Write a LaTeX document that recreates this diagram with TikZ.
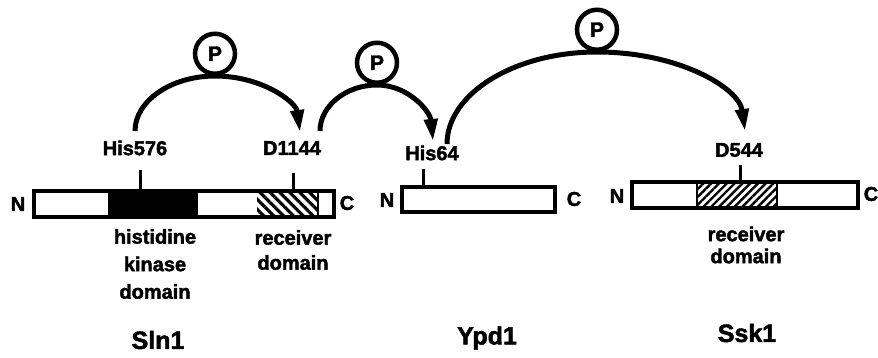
\documentclass[tikz,border=0pt]{standalone}
\usepackage{fontspec}
\setmainfont{Liberation Sans}[BoldFeatures={FakeBold=2}]
\usetikzlibrary{arrows.meta,patterns.meta}
\begin{document}
\begin{tikzpicture}[x=1pt,y=-1pt,
  lbl/.style={font=\bfseries\fontsize{20}{24}\selectfont, inner sep=0pt, align=center},
  protname/.style={font=\bfseries\fontsize{25}{30}\selectfont, inner sep=0pt},
  bar/.style={draw, line width=3.5pt, inner sep=0pt},
  tick/.style={line width=3pt},
  phos/.style={circle, draw, line width=4.5pt, minimum size=40pt, inner sep=0pt,
    fill=white, font=\bfseries\fontsize{21}{24}\selectfont},
  transfer/.style={line width=5pt, -{Triangle[length=22pt,width=13pt]}},
  hatchA/.style={pattern={Lines[angle=-45,distance=7pt,line width=3.2pt]}},
  hatchB/.style={pattern={Lines[angle=45,distance=5.5pt,line width=2.4pt]}},
  divider/.style={line width=2.5pt},
]
\fill[white] (0,0) rectangle (878,358);
\useasboundingbox (0,0) rectangle (878,358);

% ---- Sln1: histidine kinase domain + receiver domain
\fill (108,191) rectangle (198,217);
\path[hatchA] (257,191) rectangle (318,217);
\draw[divider] (318,191) -- (318,217);
\node[bar, minimum width=300pt, minimum height=26pt] (sln1) at (184,204) {};
\node[lbl] (sln1N) at (18,204) {N};
\node[lbl] (sln1C) at (347,203) {C};

% ---- Ypd1
\node[bar, minimum width=153pt, minimum height=25pt] (ypd1) at (478.5,199.5) {};
\node[lbl] (ypd1N) at (387,200) {N};
\node[lbl] (ypd1C) at (574,199) {C};

% ---- Ssk1: receiver domain
\path[hatchB] (697,182) rectangle (777,208);
\draw[divider] (697,182) -- (697,208) (777,182) -- (777,208);
\node[bar, minimum width=226pt, minimum height=26pt] (ssk1) at (745,195) {};
\node[lbl] (ssk1N) at (617,196) {N};
\node[lbl] (ssk1C) at (871,194) {C};

% ---- residue labels and their ticks
\node[lbl] (his576) at (135,148) {His576};
\node[lbl] (d1144) at (292,148) {D1144};
\node[lbl] (his64) at (432,153) {His64};
\node[lbl] (d544) at (739,150) {D544};
\coordinate (t1) at (140,170);
\coordinate (t2) at (293,173);
\coordinate (t3) at (423,169);
\coordinate (t4) at (740,165);
\draw[tick] (t1) -- (t1 |- sln1.north);
\draw[tick] (t2) -- (t2 |- sln1.north);
\draw[tick] (t3) -- (t3 |- ypd1.north);
\draw[tick] (t4) -- (t4 |- ssk1.north);

% ---- domain names
\node[lbl, font=\bfseries\fontsize{20}{27.5}\selectfont] (hkd) at (155,264) {histidine\\kinase\\domain};
\node[lbl, font=\bfseries\fontsize{20}{25}\selectfont] (rd1) at (293,250) {receiver\\domain};
\node[lbl, font=\bfseries\fontsize{20}{22}\selectfont] (rd2) at (746,245) {receiver\\domain};

% ---- protein names
\node[protname] (nsln1) at (158,340) {Sln1};
\node[protname] (nypd1) at (487,338) {Ypd1};
\node[protname] (nssk1) at (747,333) {Ssk1};

% ---- phosphoryl transfer arcs
\node[phos, anchor=south] (p1) at (215,76) {P};
\node[phos, anchor=south] (p2) at (377,85) {P};
\node[phos, anchor=south] (p3) at (597,52) {P};
\coordinate (a1s) at (135,131);
\coordinate (a1e) at (300,132);
\coordinate (a2s) at (320,131);
\coordinate (a2e) at (433,141);
\coordinate (a3s) at (447,144);
\coordinate (a3e) at (745,131);
\draw[transfer] (a1s) .. controls +(0,-30) and +(-44,0) .. (p1.south)
  .. controls +(47,0) and +(-4,-30) .. (a1e);
\draw[transfer] (a2s) .. controls +(0,-25) and +(-31,0) .. (p2.south)
  .. controls +(31,0) and +(-3,-30) .. (a2e);
\draw[transfer] (a3s) .. controls +(0,-50) and +(-83,0) .. (p3.south)
  .. controls +(82,0) and +(-6,-43) .. (a3e);
\end{tikzpicture}
\end{document}
